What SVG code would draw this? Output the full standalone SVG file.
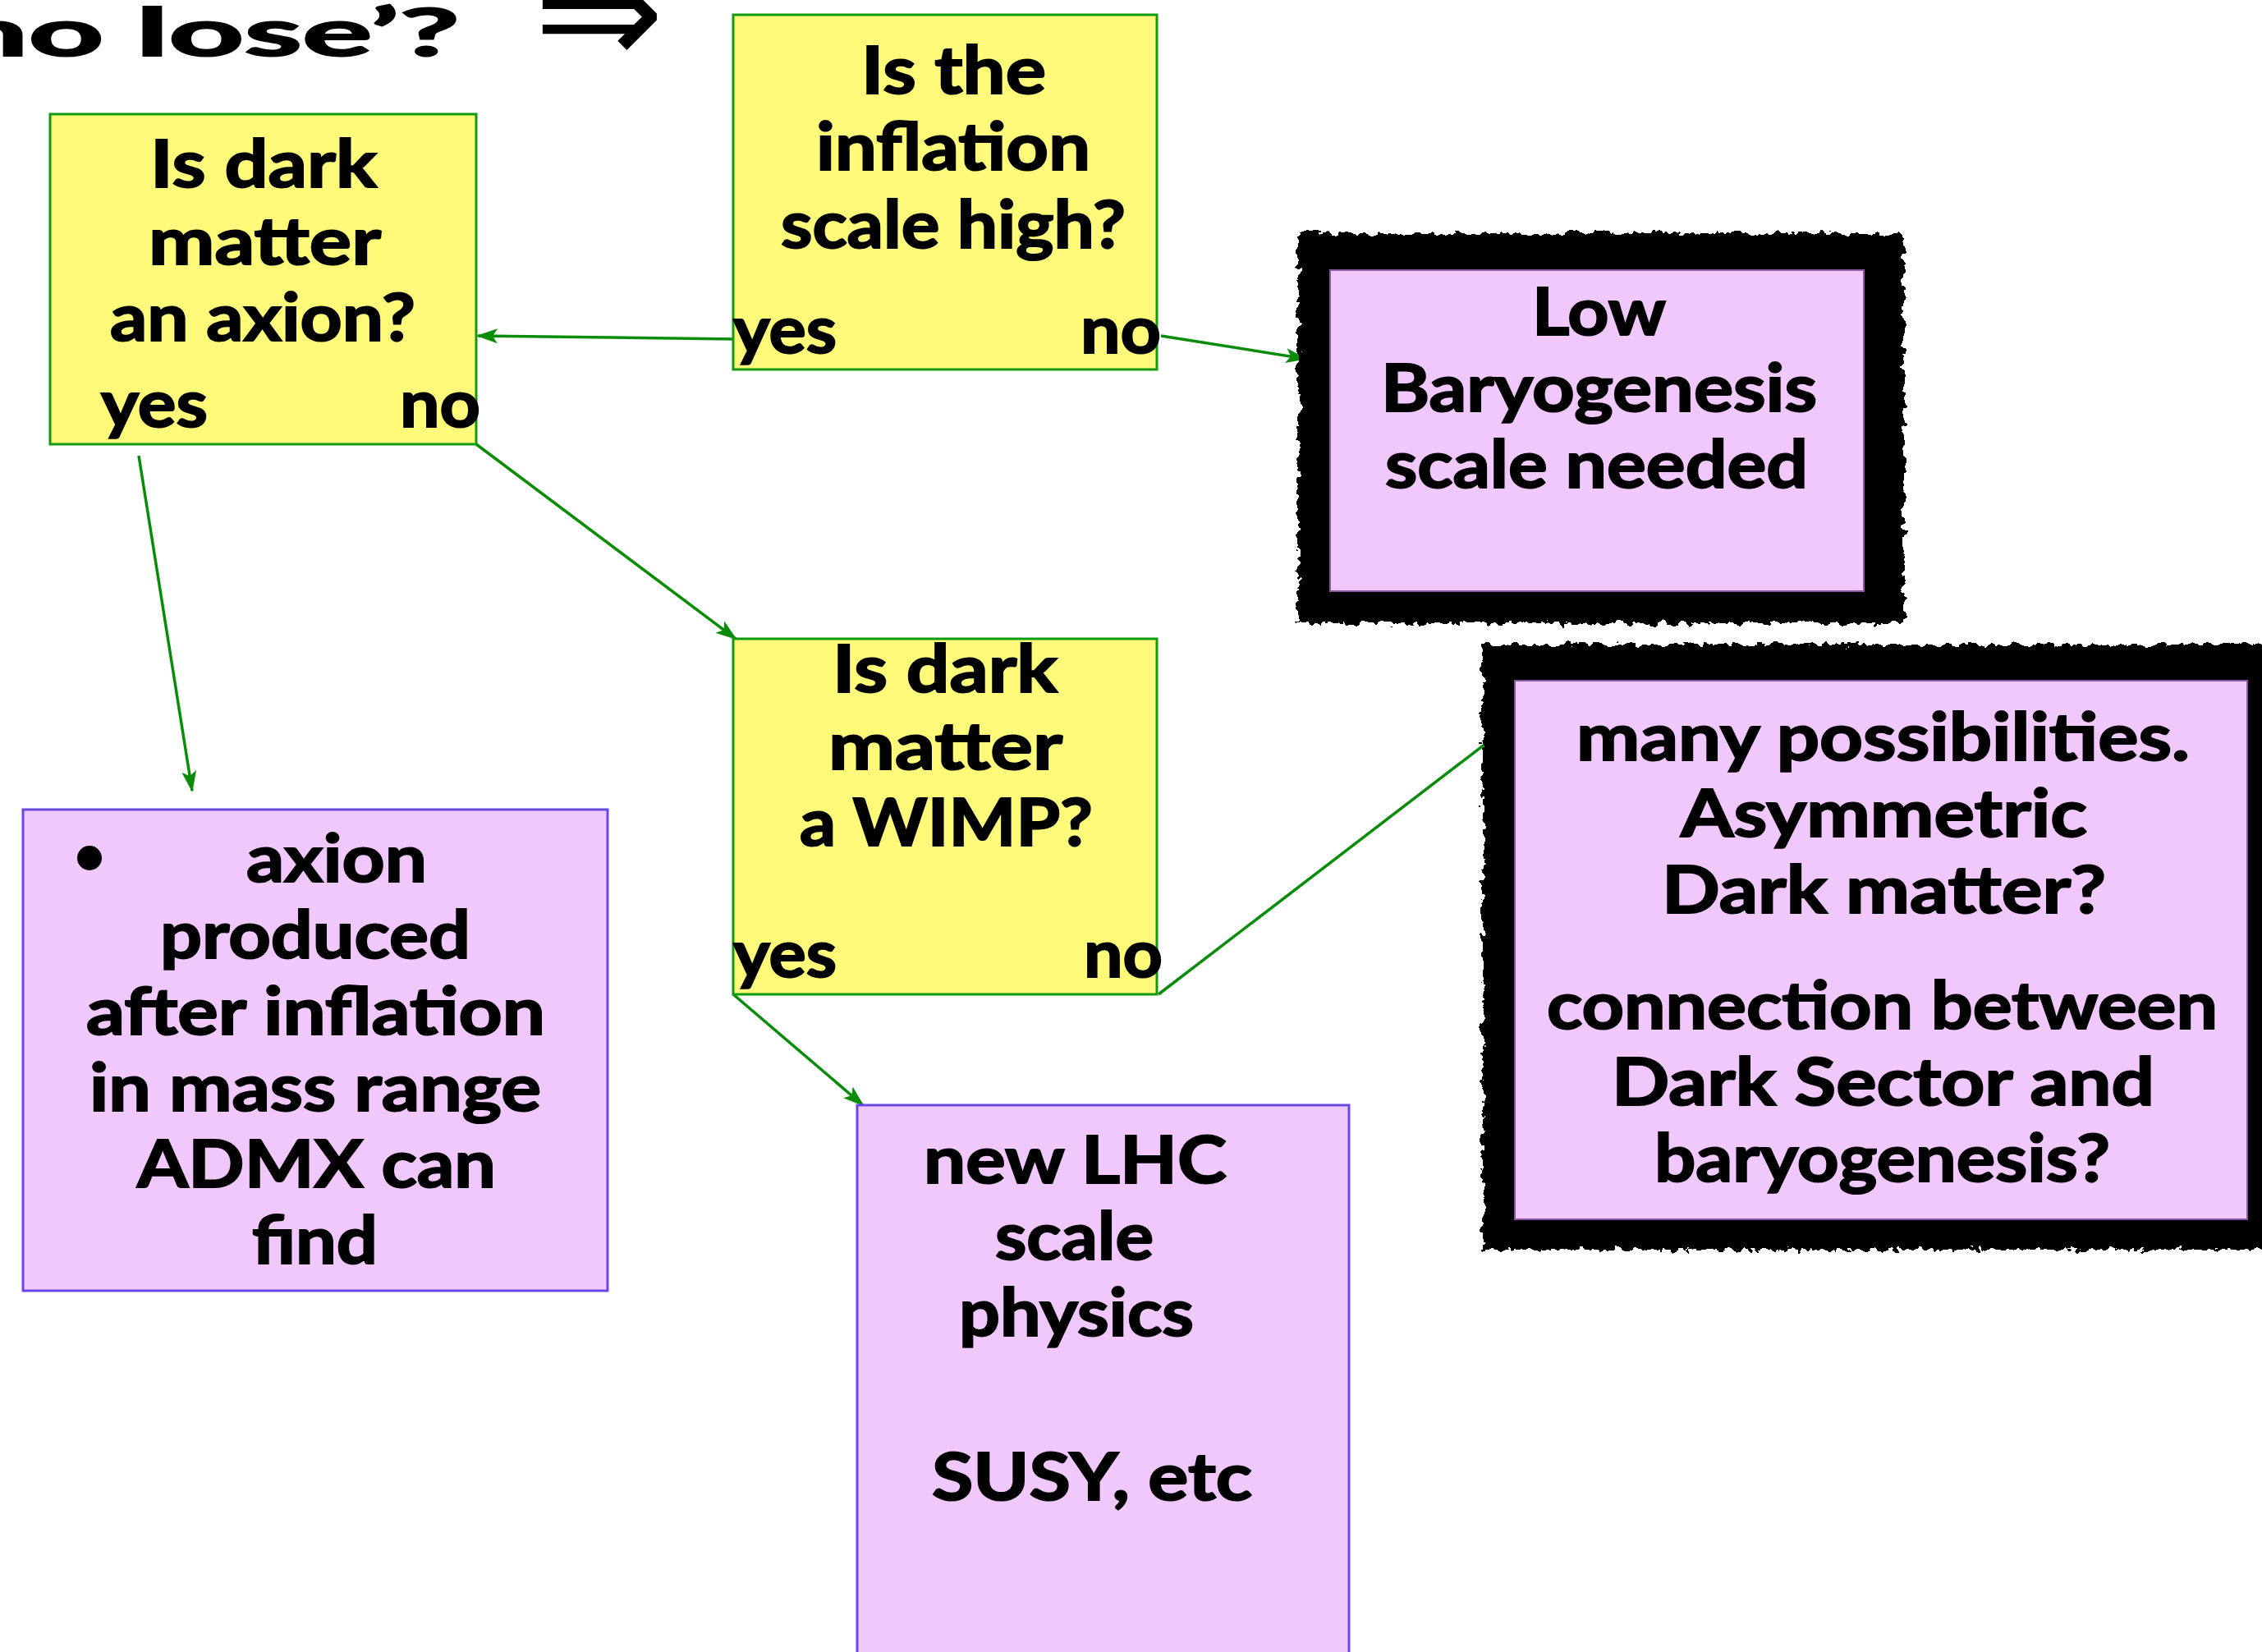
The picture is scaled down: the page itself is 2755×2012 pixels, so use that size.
<svg xmlns="http://www.w3.org/2000/svg" width="2755" height="2012" viewBox="0 0 2755 2012">
<defs>
<style>
.t{font-family:Lato,"Liberation Sans",sans-serif;font-weight:700;font-size:80px;fill:#000;stroke:#000;stroke-width:2;}
.q{fill:#FFFA7A;stroke:#109A10;stroke-width:3;}
.r{fill:#F0C8FB;stroke:#6A48E8;stroke-width:3;}
.c{fill:none;stroke:#0A8C0A;stroke-width:3.5;}
.frame{fill:#000;filter:url(#rough);}
.inner{fill:#F0C8FB;stroke:#8A5AA0;stroke-width:2;}
</style>
<marker id="ah" markerUnits="userSpaceOnUse" markerWidth="26" markerHeight="20" refX="24" refY="10" orient="auto">
<path d="M0,1 L26,10 L0,19 L6,10 Z" fill="#0A8C0A"/>
</marker>
<filter id="rough" x="-5%" y="-5%" width="110%" height="110%">
<feTurbulence type="fractalNoise" baseFrequency="0.09" numOctaves="3" seed="4" result="n"/>
<feDisplacementMap in="SourceGraphic" in2="n" scale="16" xChannelSelector="R" yChannelSelector="G"/>
</filter>
</defs>
<rect width="2755" height="2012" fill="#fff"/>

<g id="title">
<text class="t" x="-56" y="68" font-size="140" stroke-width="4" textLength="616" lengthAdjust="spacingAndGlyphs">no lose’?</text>
<text x="650" y="80" font-family="DejaVu Sans,sans-serif" font-size="190" fill="#000">⇒</text>
</g>

<g id="connectors">
<line class="c" x1="896" y1="413" x2="582" y2="409" marker-end="url(#ah)"/>
<line class="c" x1="1414" y1="409" x2="1590" y2="437" marker-end="url(#ah)"/>
<line class="c" x1="580" y1="541" x2="896" y2="778" marker-end="url(#ah)"/>
<line class="c" x1="169" y1="555" x2="234" y2="963" marker-end="url(#ah)"/>
<line class="c" x1="893" y1="1211" x2="1051" y2="1346" marker-end="url(#ah)"/>
<line class="c" x1="1411" y1="1211" x2="1830" y2="890"/>
</g>

<g id="q-axion">
<rect class="q" x="61" y="139" width="519" height="402"/>
<text class="t" x="183" y="228" textLength="276" lengthAdjust="spacingAndGlyphs">Is dark</text>
<text class="t" x="181" y="322" textLength="283" lengthAdjust="spacingAndGlyphs">matter</text>
<text class="t" x="134" y="415" textLength="372" lengthAdjust="spacingAndGlyphs">an axion?</text>
<text class="t" x="123" y="520" textLength="130" lengthAdjust="spacingAndGlyphs">yes</text>
<text class="t" x="487" y="520" textLength="98" lengthAdjust="spacingAndGlyphs">no</text>
</g>

<g id="q-inflation">
<rect class="q" x="893" y="18" width="516" height="432"/>
<text class="t" x="1049" y="114" textLength="225" lengthAdjust="spacingAndGlyphs">Is the</text>
<text class="t" x="994" y="207" textLength="334" lengthAdjust="spacingAndGlyphs">inflation</text>
<text class="t" x="951" y="302" textLength="420" lengthAdjust="spacingAndGlyphs">scale high?</text>
<text class="t" x="893" y="430" textLength="126" lengthAdjust="spacingAndGlyphs">yes</text>
<text class="t" x="1316" y="430" textLength="98" lengthAdjust="spacingAndGlyphs">no</text>
</g>

<g id="q-wimp">
<rect class="q" x="893" y="778" width="516" height="433"/>
<text class="t" x="1014" y="843" textLength="274" lengthAdjust="spacingAndGlyphs">Is dark</text>
<text class="t" x="1009" y="937" textLength="285" lengthAdjust="spacingAndGlyphs">matter</text>
<text class="t" x="974" y="1030" textLength="357" lengthAdjust="spacingAndGlyphs">a WIMP?</text>
<text class="t" x="893" y="1190" textLength="126" lengthAdjust="spacingAndGlyphs">yes</text>
<text class="t" x="1320" y="1190" textLength="96" lengthAdjust="spacingAndGlyphs">no</text>
</g>

<g id="r-low">
<rect class="frame" x="1581" y="284" width="738" height="475"/>
<rect class="inner" x="1620" y="329" width="650" height="391"/>
<text class="t" x="1866" y="408" textLength="163" lengthAdjust="spacingAndGlyphs">Low</text>
<text class="t" x="1682" y="501" textLength="531" lengthAdjust="spacingAndGlyphs">Baryogenesis</text>
<text class="t" x="1687" y="594" textLength="515" lengthAdjust="spacingAndGlyphs" stroke-width="1">scale needed</text>
</g>

<g id="r-many">
<rect class="frame" x="1806" y="785" width="980" height="737"/>
<rect class="inner" x="1845" y="829" width="892" height="656"/>
<text class="t" x="1920" y="926" textLength="747" lengthAdjust="spacingAndGlyphs">many possibilities.</text>
<text class="t" x="2047" y="1019" textLength="495" lengthAdjust="spacingAndGlyphs">Asymmetric</text>
<text class="t" x="2024" y="1112" textLength="541" lengthAdjust="spacingAndGlyphs">Dark matter?</text>
<text class="t" x="1884" y="1253" textLength="817" lengthAdjust="spacingAndGlyphs">connection between</text>
<text class="t" x="1963" y="1346" textLength="661" lengthAdjust="spacingAndGlyphs">Dark Sector and</text>
<text class="t" x="2015" y="1439" textLength="555" lengthAdjust="spacingAndGlyphs">baryogenesis?</text>
</g>

<g id="r-axion">
<rect class="r" x="28" y="986" width="712" height="586"/>
<circle cx="109" cy="1045" r="15" fill="#000"/>
<text class="t" x="300" y="1074" textLength="220" lengthAdjust="spacingAndGlyphs">axion</text>
<text class="t" x="195" y="1167" textLength="378" lengthAdjust="spacingAndGlyphs">produced</text>
<text class="t" x="105" y="1260" textLength="559" lengthAdjust="spacingAndGlyphs">after inflation</text>
<text class="t" x="109" y="1353" textLength="550" lengthAdjust="spacingAndGlyphs">in mass range</text>
<text class="t" x="167" y="1446" textLength="437" lengthAdjust="spacingAndGlyphs">ADMX can</text>
<text class="t" x="307" y="1539" textLength="153" lengthAdjust="spacingAndGlyphs">find</text>
</g>

<g id="r-lhc">
<rect class="r" x="1044" y="1346" width="599" height="700"/>
<text class="t" x="1125" y="1441" textLength="369" lengthAdjust="spacingAndGlyphs">new LHC</text>
<text class="t" x="1212" y="1534" textLength="193" lengthAdjust="spacingAndGlyphs">scale</text>
<text class="t" x="1168" y="1627" textLength="286" lengthAdjust="spacingAndGlyphs">physics</text>
<text class="t" x="1135" y="1827" textLength="390" lengthAdjust="spacingAndGlyphs">SUSY, etc</text>
</g>
</svg>
